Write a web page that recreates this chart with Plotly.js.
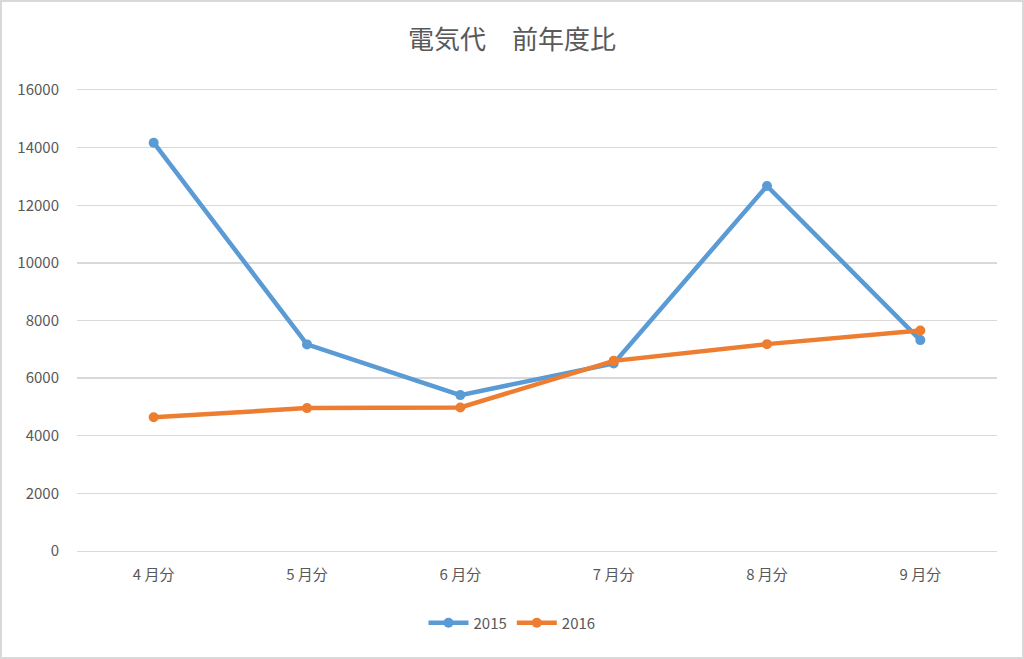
<!DOCTYPE html>
<html>
<head>
<meta charset="utf-8">
<script src="https://cdn.plot.ly/plotly-3.0.1.min.js"></script>
<style>
  body { margin: 0; background: #fff; }
  #chart { width: 1024px; height: 659px; outline: 2px solid #d9d9d9; outline-offset: -2px; }
</style>
</head>
<body>
<div id="chart"></div>
<script>
// 月ごとの電気代
var months = ['4 月分', '5 月分', '6 月分', '7 月分', '8 月分', '9 月分'];
var y2015 = [14170, 7170, 5410, 6510, 12670, 7320];
var y2016 = [4640, 4960, 4980, 6600, 7180, 7650];
var yTicks = [0, 2000, 4000, 6000, 8000, 10000, 12000, 14000, 16000];

var jpFont = '"Noto Sans CJK JP", "Noto Sans", sans-serif';

var trace2015 = {
  x: months, y: y2015,
  name: '2015',
  type: 'scatter',
  mode: 'lines+markers',
  line: { color: '#5B9BD5', width: 4.5 },
  marker: { color: '#5B9BD5', size: 10 }
};
var trace2016 = {
  x: months, y: y2016,
  name: '2016',
  type: 'scatter',
  mode: 'lines+markers',
  line: { color: '#ED7D31', width: 4.5 },
  marker: { color: '#ED7D31', size: 10 }
};

var layout = {
  width: 1024,
  height: 659,
  paper_bgcolor: 'rgba(0,0,0,0)',
  plot_bgcolor: '#fff',
  margin: { l: 77, r: 27, t: 90, b: 108 },
  font: { family: jpFont, color: '#595959', size: 15 },
  title: {
    text: '電気代　前年度比',
    font: { family: jpFont, size: 26, color: '#595959' },
    x: 0.5, xanchor: 'center',
    y: 1 - 40 / 659, yanchor: 'middle', yref: 'container'
  },
  xaxis: {
    type: 'category',
    range: [-0.5, 5.5],
    showgrid: false,
    // 上下の目盛線 (0 と 16000)
    showline: true, mirror: true, linecolor: '#d9d9d9', linewidth: 1.3,
    zeroline: false,
    ticks: 'outside', ticklen: 10, tickcolor: 'rgba(0,0,0,0)',
    tickfont: { family: jpFont, size: 15, color: '#595959' }
  },
  yaxis: {
    range: [0, 16000],
    tickvals: yTicks,
    ticktext: yTicks.map(String),
    showgrid: true,
    gridcolor: '#d9d9d9',
    gridwidth: 1.3,
    zeroline: false,
    showline: false,
    ticks: 'outside', ticklen: 14, tickcolor: 'rgba(0,0,0,0)',
    tickfont: { family: jpFont, size: 15, color: '#595959' }
  },
  showlegend: true,
  legend: {
    orientation: 'h',
    xref: 'container', yref: 'container',
    x: 0.5, xanchor: 'center',
    y: 1 - 623 / 659, yanchor: 'middle',
    font: { family: jpFont, size: 15, color: '#595959' },
    itemwidth: 40
  }
};

Plotly.newPlot('chart', [trace2015, trace2016], layout, { displayModeBar: false, staticPlot: true });
</script>
</body>
</html>
